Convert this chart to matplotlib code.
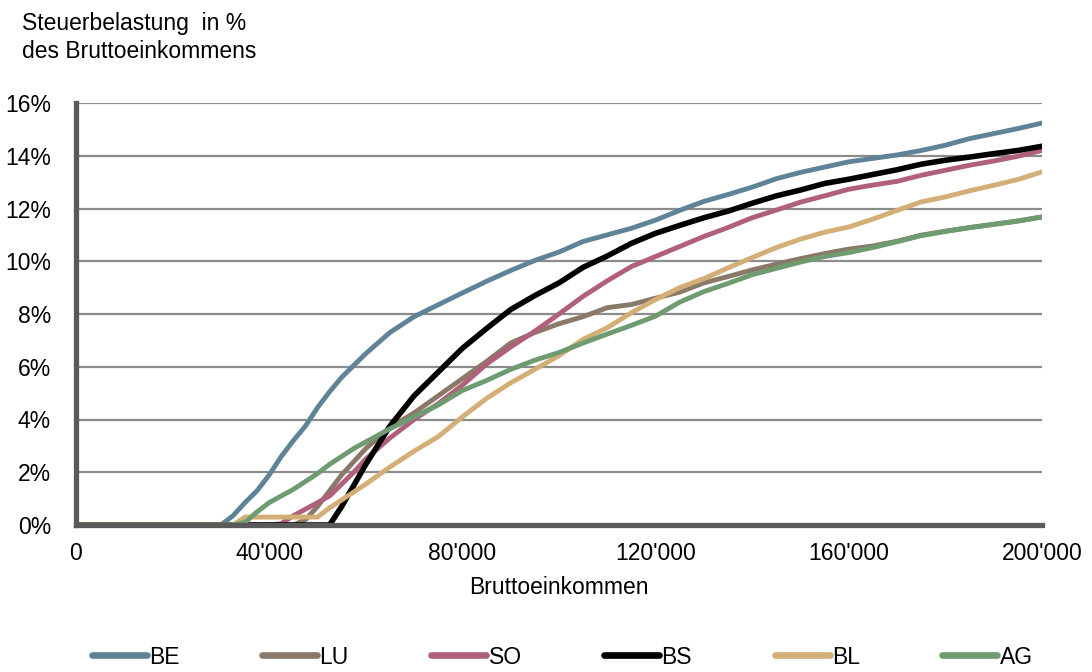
import matplotlib
matplotlib.use("Agg")
import matplotlib.pyplot as plt
from matplotlib.ticker import FuncFormatter

plt.rcParams['font.family'] = ['Liberation Sans', 'DejaVu Sans']

# Bruttoeinkommen in 1000 CHF
income = [0, 30, 32.5, 35, 37.5, 40, 42.5, 45, 47.5, 50, 52.5, 55, 57.5, 60,
          65, 70, 75, 80, 85, 90, 95, 100, 105, 110, 115, 120, 125, 130, 135,
          140, 145, 150, 155, 160, 165, 170, 175, 180, 185, 190, 195, 200]

be = [0, 0, 0.35, 0.85, 1.3, 1.9, 2.6, 3.2, 3.75, 4.45, 5.05, 5.6, 6.05, 6.5,
      7.3, 7.9, 8.35, 8.8, 9.24, 9.65, 10.03, 10.35, 10.75, 11.0, 11.25, 11.56, 11.93, 12.27, 12.53,
      12.81, 13.13, 13.37, 13.57, 13.77, 13.9, 14.03, 14.2, 14.4, 14.65, 14.84, 15.03, 15.24]
lu = [0, 0, 0, 0, 0, 0, 0, 0, 0.2, 0.7, 1.3, 1.9, 2.4, 2.9,
      3.7, 4.25, 4.9, 5.55, 6.2, 6.9, 7.3, 7.63, 7.9, 8.24, 8.36, 8.6, 8.83, 9.18, 9.42,
      9.67, 9.89, 10.1, 10.29, 10.46, 10.58, 10.76, 10.99, 11.14, 11.28, 11.4, 11.53, 11.68]
so = [0, 0, 0, 0, 0, 0, 0.05, 0.35, 0.6, 0.85, 1.1, 1.55, 2.0, 2.5,
      3.3, 4.0, 4.6, 5.3, 6.1, 6.75, 7.35, 8.0, 8.67, 9.26, 9.8, 10.18, 10.56, 10.94, 11.28,
      11.65, 11.94, 12.24, 12.48, 12.73, 12.89, 13.03, 13.26, 13.45, 13.64, 13.8, 13.98, 14.2]
bs = [0, 0, 0, 0, 0, 0, 0, 0, 0, 0, 0, 0.7, 1.5, 2.3,
      3.75, 4.9, 5.8, 6.7, 7.45, 8.17, 8.7, 9.18, 9.77, 10.2, 10.68, 11.06, 11.36, 11.65, 11.9,
      12.2, 12.48, 12.7, 12.95, 13.11, 13.29, 13.47, 13.68, 13.83, 13.95, 14.08, 14.2, 14.36]
bl = [0, 0, 0, 0.3, 0.3, 0.3, 0.3, 0.3, 0.3, 0.3, 0.65, 0.95, 1.25, 1.55,
      2.2, 2.8, 3.35, 4.1, 4.8, 5.39, 5.9, 6.42, 7.04, 7.48, 8.05, 8.55, 9.0, 9.34, 9.75,
      10.14, 10.52, 10.84, 11.1, 11.3, 11.6, 11.93, 12.25, 12.44, 12.67, 12.88, 13.1, 13.39]
ag = [0, 0, 0, 0.1, 0.5, 0.85, 1.1, 1.35, 1.65, 1.95, 2.3, 2.6, 2.9, 3.15,
      3.65, 4.1, 4.55, 5.1, 5.48, 5.9, 6.25, 6.54, 6.9, 7.24, 7.57, 7.92, 8.45, 8.85, 9.16,
      9.49, 9.73, 9.97, 10.18, 10.33, 10.52, 10.74, 10.97, 11.13, 11.27, 11.4, 11.52, 11.68]

series = [("BE", be, "#5f8397", 3.5),
          ("LU", lu, "#8a7868", 3.5),
          ("SO", so, "#b0607b", 3.5),
          ("BS", bs, "#000000", 4.0),
          ("BL", bl, "#d3ae76", 3.5),
          ("AG", ag, "#6e9c70", 3.5)]

x_ticks = [0, 40, 80, 120, 160, 200]
y_ticks = [0, 2, 4, 6, 8, 10, 12, 14, 16]

fig = plt.figure(figsize=(10.92, 6.72), dpi=100)
ax = fig.add_axes([76/1092, 1-525/672, (1042-76)/1092, (525-103)/672])

x = [v * 1000 for v in income]
for name, vals, col, lw in series:
    ax.plot(x, vals, color=col, lw=lw, label=name, solid_joinstyle='round')

ax.set_xlim(0, 200000)
ax.set_ylim(0, 16)
ax.set_yticks(y_ticks)
ax.set_xticks([t * 1000 for t in x_ticks])
ax.yaxis.set_major_formatter(FuncFormatter(lambda v, p: "%d%%" % v))
ax.xaxis.set_major_formatter(FuncFormatter(lambda v, p: "0" if v == 0 else "%d'000" % (v / 1000)))
ax.tick_params(length=0, labelsize=16.5, colors='black')
ax.tick_params(axis='y', pad=18)
ax.tick_params(axis='x', pad=12)

ax.grid(axis='y', color='#8c8c8c', lw=1.6)
ax.set_axisbelow(True)
for s in ['top', 'right']:
    ax.spines[s].set_visible(False)
for s in ['left', 'bottom']:
    ax.spines[s].set_color('#5a5a5a')
    ax.spines[s].set_linewidth(3.8)
    ax.spines[s].set_zorder(5)

ax.set_xlabel("Bruttoeinkommen", fontsize=16.5, labelpad=8)

fig.text(22/1092, 1-30/672, "Steuerbelastung  in %", fontsize=16.5, va='baseline')
fig.text(22/1092, 1-58/672, "des Bruttoeinkommens", fontsize=16.5, va='baseline')

leg = fig.legend(loc='center', bbox_to_anchor=(0.515, 1-657/672), ncol=6,
                 frameon=False, fontsize=16.5, handlelength=2.4,
                 handletextpad=0.1, columnspacing=3.6)
for h in leg.get_lines():
    h.set_linewidth(4.8)
    h.set_solid_capstyle('round')

fig.savefig("out.png", dpi=100)
